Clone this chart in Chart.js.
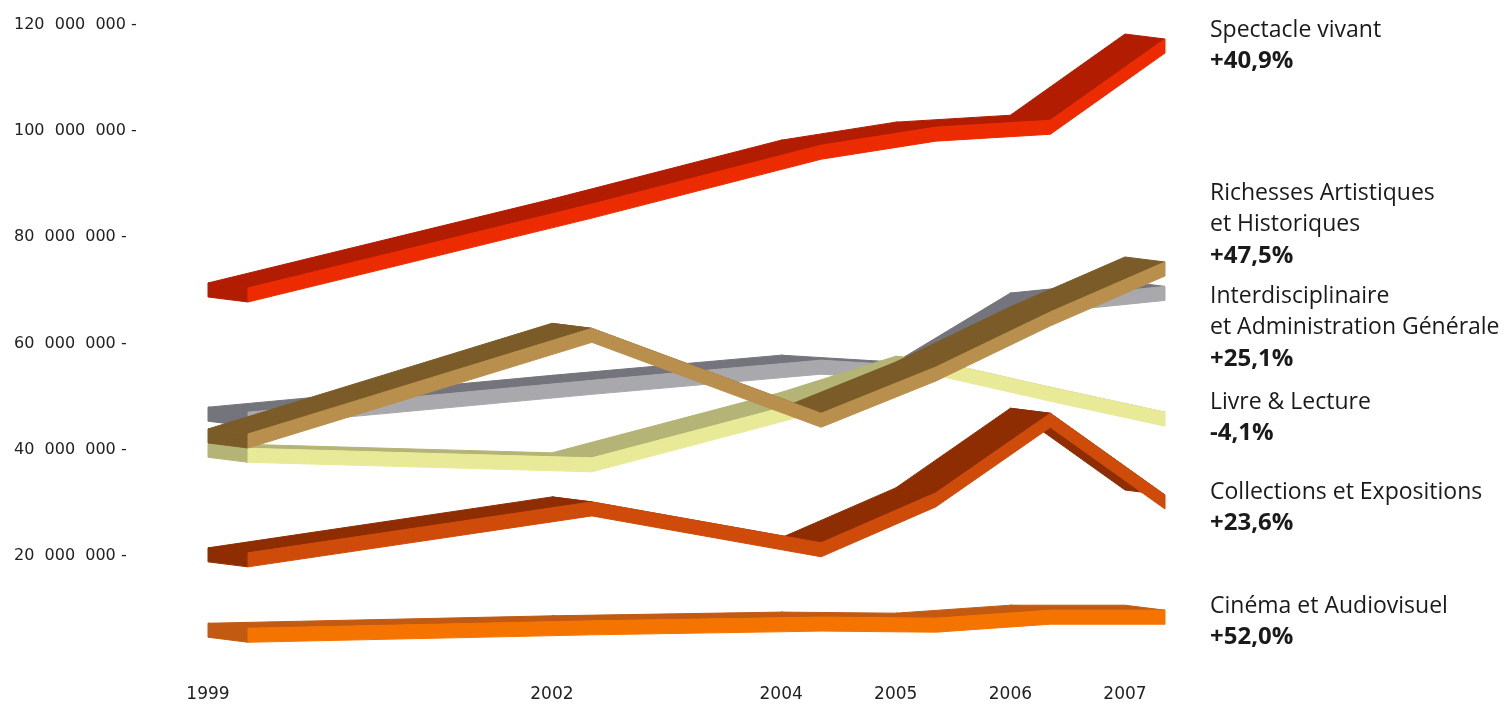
<!DOCTYPE html>
<html lang="fr">
<head>
<meta charset="utf-8">
<title>Évolution des crédits par domaine, 1999-2007</title>
<script src="https://cdn.jsdelivr.net/npm/chart.js@4/dist/chart.umd.min.js"></script>
<style>
  html, body { margin: 0; padding: 0; background: #fff; }
</style>
</head>
<body>
<canvas id="ribbonChart" width="1508" height="704"></canvas>
<script>
const years = [1999, 2002, 2004, 2005, 2006, 2007];
const yTicks = [20, 40, 60, 80, 100, 120];

// millions d'euros
const spectacleVivant = [71.4, 87.2, 98.3, 101.7, 103.0, 118.3];
const richesses = [43.9, 63.8, 47.8, 56.5, 66.9, 76.3];
const interdisciplinaire = [48.0, 54.0, 57.8, 56.5, 69.5, 71.7];
const livreLecture = [41.2, 39.4, 50.8, 57.6, 52.7, 48.0];
const collections = [21.5, 31.1, 23.4, 32.8, 47.8, 32.4];
const cinema = [7.3, 8.7, 9.4, 9.2, 10.7, 10.7];

const legendNames = [
  ['Spectacle vivant'],
  ['Richesses Artistiques', 'et Historiques'],
  ['Interdisciplinaire', 'et Administration Générale'],
  ['Livre & Lecture'],
  ['Collections et Expositions'],
  ['Cinéma et Audiovisuel']
];
const legendChanges = ['+40,9%', '+47,5%', '+25,1%', '-4,1%', '+23,6%', '+52,0%'];

// ribbon look
const DEPTH_X = 40, DEPTH_Y = 5, FACE_H = 14;
const LEGEND_TOP = [30, 193, 296, 402, 492, 606];
const LINE_STEP = 31.5;

function series(label, values, front, top) {
  return {
    label: label,
    data: years.map((y, i) => ({ x: y, y: values[i] })),
    borderColor: front,
    backgroundColor: top,
    borderWidth: 0,
    pointRadius: 0,
    showLine: false
  };
}

function poly(ctx, pts, color) {
  ctx.beginPath();
  ctx.moveTo(pts[0].x, pts[0].y);
  pts.slice(1).forEach(p => ctx.lineTo(p.x, p.y));
  ctx.closePath();
  ctx.fillStyle = color;
  ctx.strokeStyle = color;
  ctx.lineWidth = 1;
  ctx.fill();
  ctx.stroke();
}

const ribbonPlugin = {
  id: 'ribbons',
  afterDatasetsDraw(chart) {
    const ctx = chart.ctx;
    ctx.save();
    chart.data.datasets.forEach((ds, i) => {
      const back = chart.getDatasetMeta(i).data.map(p => ({ x: p.x, y: p.y }));
      const front = back.map(p => ({ x: p.x + DEPTH_X, y: p.y + DEPTH_Y }));
      const down = p => ({ x: p.x, y: p.y + FACE_H });
      poly(ctx, [back[0], front[0], down(front[0]), down(back[0])], ds.backgroundColor);
      for (let k = 0; k < back.length - 1; k++) {
        poly(ctx, [back[k], back[k + 1], front[k + 1], front[k]], ds.backgroundColor);
      }
      poly(ctx, front.concat(front.slice().reverse().map(down)), ds.borderColor);
    });
    ctx.restore();
  }
};

const legendPlugin = {
  id: 'sideLegend',
  afterDraw(chart) {
    const ctx = chart.ctx;
    const x = chart.chartArea.right + 85;
    ctx.save();
    ctx.fillStyle = '#1a1a1a';
    ctx.textAlign = 'left';
    ctx.textBaseline = 'middle';
    legendNames.forEach((lines, i) => {
      let y = LEGEND_TOP[i];
      ctx.font = '23px "Open Sans"';
      lines.forEach(t => { ctx.fillText(t, x, y); y += LINE_STEP; });
      ctx.font = 'bold 24px "Open Sans"';
      ctx.fillText(legendChanges[i], x, y);
    });
    ctx.restore();
  }
};

function euros(v) {
  return String(v * 1000000).replace(/\B(?=(\d{3})+(?!\d))/g, '\u2007') + ' -';
}

// drawn back to front
const datasets = [
  series('Interdisciplinaire et Administration Générale', interdisciplinaire, '#a9a9ad', '#74747c'),
  series('Livre & Lecture', livreLecture, '#e9ea98', '#b4b476'),
  series('Richesses Artistiques et Historiques', richesses, '#b88f4c', '#7b5c29'),
  series('Collections et Expositions', collections, '#cf4b0a', '#8e2d02'),
  series('Spectacle vivant', spectacleVivant, '#ec2c00', '#b21c00'),
  series('Cinéma et Audiovisuel', cinema, '#f57400', '#c25a12')
];

new Chart(document.getElementById('ribbonChart'), {
  type: 'line',
  data: { datasets: datasets },
  options: {
    responsive: false,
    devicePixelRatio: 1,
    animation: false,
    layout: { padding: { left: 14, right: 383, top: 25, bottom: 0 } },
    plugins: { legend: { display: false }, tooltip: { enabled: false } },
    scales: {
      x: {
        type: 'linear',
        min: 1999,
        max: 2007,
        afterBuildTicks: s => { s.ticks = years.map(v => ({ value: v })); },
        afterFit: s => { s.height = 42; },
        grid: { display: false, drawTicks: false },
        border: { display: false },
        ticks: {
          padding: 22,
          autoSkip: false,
          maxRotation: 0,
          color: '#222',
          font: { family: 'DejaVu Sans', size: 17 },
          callback: v => String(v)
        }
      },
      y: {
        min: 0,
        max: 120,
        afterBuildTicks: s => { s.ticks = yTicks.map(v => ({ value: v })); },
        afterFit: s => { s.width = 194; },
        grid: { display: false, drawTicks: false },
        border: { display: false },
        ticks: {
          crossAlign: 'far',
          color: '#222',
          font: { family: 'DejaVu Sans', size: 16 },
          callback: v => euros(v)
        }
      }
    }
  },
  plugins: [ribbonPlugin, legendPlugin]
});
</script>
</body>
</html>
